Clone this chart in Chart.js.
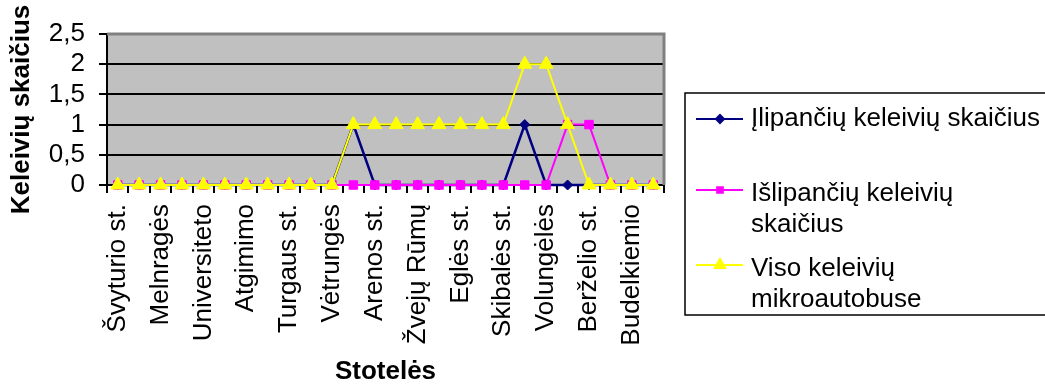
<!DOCTYPE html>
<html>
<head>
<meta charset="utf-8">
<script src="https://cdn.jsdelivr.net/npm/chart.js"></script>
<style>
  body { margin: 0; background: #fff; }
  #wrap { width: 1045px; height: 387px; }
</style>
</head>
<body>
<div id="wrap"><canvas id="chart" width="1045" height="387"></canvas></div>
<script>
// stotelės (kas antra pavadinimo nesimato originale)
const stoteles = ['Švyturio st.', '', 'Melnragės', '', 'Universiteto', '', 'Atgimimo', '',
  'Turgaus st.', '', 'Vėtrungės', '', 'Arenos st.', '', 'Žvejų Rūmų', '', 'Eglės st.', '',
  'Skibalės st.', '', 'Volungėlės', '', 'Berželio st.', '', 'Budelkiemio', ''];
const ilipa  = [0,0,0,0,0,0,0,0,0,0,0,1,0,0,0,0,0,0,0,1,0,0,0,0,0,0];
const islipa = [0,0,0,0,0,0,0,0,0,0,0,0,0,0,0,0,0,0,0,0,0,1,1,0,0,0];
const viso   = [0,0,0,0,0,0,0,0,0,0,0,1,1,1,1,1,1,1,1,2,2,1,0,0,0,0];
const yMax = 2.5, yStep = 0.5;

const FONT = "'Liberation Sans', Arial, sans-serif";
const FS = 26;

const seriesInfo = [
  { lines: ['Įlipančių keleivių skaičius'], color: '#000080', style: 'rectRot', r: 4, pr: 5 },
  { lines: ['Išlipančių keleivių', 'skaičius'], color: '#FF00FF', style: 'rect', r: 4, pr: 6 },
  { lines: ['Viso keleivių', 'mikroautobuse'], color: '#FFFF00', style: 'triangle', r: 6, pr: 8 }
];

// pilkas fonas ir rėmelis
const plotBg = {
  id: 'plotBg',
  beforeDraw(chart) {
    const { ctx, chartArea: a } = chart;
    ctx.save();
    ctx.fillStyle = '#C0C0C0';
    ctx.fillRect(a.left, a.top, a.right - a.left, a.bottom - a.top);
    ctx.restore();
  },
  beforeDatasetsDraw(chart) {
    const { ctx, chartArea: a } = chart;
    ctx.save();
    ctx.strokeStyle = '#808080';
    ctx.lineWidth = 3;
    ctx.beginPath();
    ctx.moveTo(a.left, a.top);
    ctx.lineTo(a.right, a.top);
    ctx.lineTo(a.right, a.bottom);
    ctx.stroke();
    ctx.restore();
  }
};

// legenda dešinėje
const sideLegend = {
  id: 'sideLegend',
  afterDraw(chart) {
    const ctx = chart.ctx;
    ctx.save();
    ctx.strokeStyle = '#000';
    ctx.lineWidth = 1.5;
    ctx.strokeRect(685, 93, 420, 222);
    const rows = [119, 190, 265];
    seriesInfo.forEach((s, i) => {
      const y = rows[i];
      ctx.strokeStyle = s.color;
      ctx.fillStyle = s.color;
      ctx.lineWidth = 2;
      ctx.beginPath();
      ctx.moveTo(696, y);
      ctx.lineTo(743, y);
      ctx.stroke();
      Chart.helpers.drawPoint(ctx, { pointStyle: s.style, radius: s.r, borderWidth: 1, rotation: 0 }, 720, y);
      ctx.fillStyle = '#000';
      ctx.font = FS + 'px ' + FONT;
      ctx.textBaseline = 'middle';
      ctx.textAlign = 'left';
      s.lines.forEach((t, j) => ctx.fillText(t, 751, y + (i ? 4 : 0) + j * 31));
    });
    ctx.restore();
  }
};

const mkSet = (label, data, info, order, w) => ({
  label: label,
  data: data,
  borderColor: info.color,
  backgroundColor: info.color,
  pointBackgroundColor: info.color,
  pointBorderColor: info.color,
  pointStyle: info.style,
  pointRadius: info.pr,
  pointBorderWidth: 1,
  borderWidth: w,
  tension: 0,
  clip: false,
  order: order
});

new Chart(document.getElementById('chart'), {
  type: 'line',
  data: {
    labels: stoteles,
    datasets: [
      mkSet('Įlipančių keleivių skaičius', ilipa, seriesInfo[0], 3, 2.5),
      mkSet('Išlipančių keleivių skaičius', islipa, seriesInfo[1], 2, 2),
      mkSet('Viso keleivių mikroautobuse', viso, seriesInfo[2], 1, 2)
    ]
  },
  options: {
    responsive: false,
    animation: false,
    layout: { padding: { top: 34, right: 381, left: 0, bottom: 0 } },
    plugins: { legend: { display: false }, tooltip: { enabled: false } },
    scales: {
      x: {
        offset: true,
        afterFit(scale) { scale.height = 202; },
        grid: { offset: true, drawOnChartArea: false, drawTicks: true, tickLength: 8, color: '#000', lineWidth: 2 },
        border: { color: '#000', width: 2 },
        ticks: {
          autoSkip: false,
          minRotation: 90,
          maxRotation: 90,
          padding: 11,
          color: '#000',
          font: { family: FONT, size: FS },
          callback: (v, i) => stoteles[i]
        },
        title: { display: true, text: 'Stotelės', color: '#000', padding: 0,
          font: { family: FONT, size: FS, weight: 'bold' } }
      },
      y: {
        min: 0,
        max: yMax,
        afterFit(scale) { scale.width = 107; },
        grid: {
          color: ctx => (ctx.tick && ctx.tick.value === yMax) ? '#808080' : '#000',
          tickColor: '#000',
          lineWidth: 2,
          tickLength: 8
        },
        border: { color: '#000', width: 2 },
        ticks: {
          stepSize: yStep,
          autoSkip: false,
          padding: 14,
          color: '#000',
          font: { family: FONT, size: FS },
          callback: v => String(v).replace('.', ',')
        },
        title: { display: true, text: 'Keleivių skaičius', color: '#000', padding: { top: 6, bottom: 0 },
          font: { family: FONT, size: FS, weight: 'bold' } }
      }
    }
  },
  plugins: [plotBg, sideLegend]
});
</script>
</body>
</html>
